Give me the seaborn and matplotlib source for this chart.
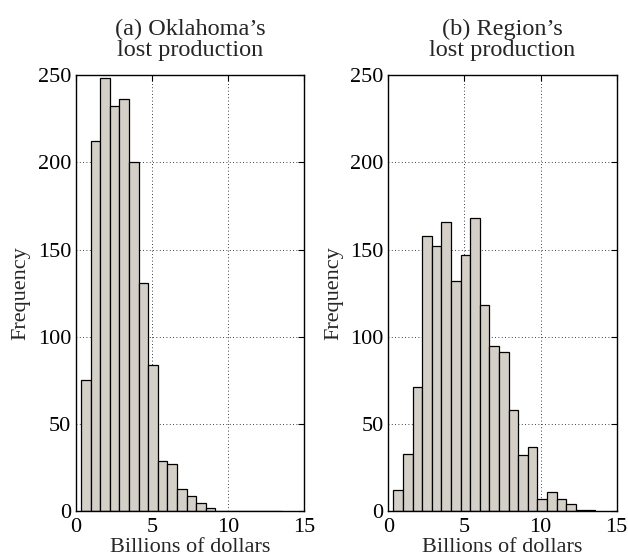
import glob
import numpy as np
import pandas as pd
import matplotlib
matplotlib.use("Agg")
import matplotlib.pyplot as plt
from matplotlib import font_manager
import seaborn as sns

# Histogram bins (billions of dollars): 21 equal bins
bin_start = 0.34
bin_width = 0.63
n_bins = 21

# Counts per bin for the two simulations
oklahoma_counts = [75, 212, 248, 232, 236, 200, 131, 84, 29, 27, 13, 9, 5, 2,
                   0, 0, 0, 0, 0, 0, 0]
region_counts = [12, 33, 71, 158, 152, 166, 132, 147, 168, 118, 95, 91, 58, 32,
                 37, 7, 11, 7, 4, 1, 1]

titles = ["(a) Oklahoma\u2019s\nlost production", "(b) Region\u2019s\nlost production"]
x_label = "Billions of dollars"
y_label = "Frequency"
x_ticks = [0, 5, 10, 15]
y_ticks = [0, 50, 100, 150, 200, 250]

edges = [bin_start + bin_width * i for i in range(n_bins + 1)]
centers = [(edges[i] + edges[i + 1]) / 2 for i in range(n_bins)]

# Register a Times-like serif face if it is on the system
for path in glob.glob("/usr/share/fonts/**/LiberationSerif*.ttf", recursive=True):
    font_manager.fontManager.addfont(path)

sns.set_theme(style="white")
plt.rcParams["font.family"] = ["Liberation Serif", "DejaVu Serif"]

fs = 16
fs_title = 17.5
fig = plt.figure(figsize=(6.28, 5.58), dpi=100)
ax_a = fig.add_axes([76 / 628, 1 - 511.3 / 558, 228 / 628, 436.3 / 558])
ax_b = fig.add_axes([388.3 / 628, 1 - 511.3 / 558, 228.4 / 628, 436.3 / 558])

for ax, counts, title in [(ax_a, oklahoma_counts, titles[0]),
                          (ax_b, region_counts, titles[1])]:
    df = pd.DataFrame({"value": centers, "count": counts})
    sns.histplot(data=df, x="value", weights="count", bins=edges, ax=ax,
                 color="#d4d0c8", alpha=1.0, edgecolor="black", linewidth=0.9)
    ax.set_xlim(0, 15)
    ax.set_ylim(0, 250)
    ax.set_xticks(x_ticks)
    ax.set_yticks(y_ticks)
    ax.set_axisbelow(True)
    ax.grid(True, linestyle=(0, (1, 3)), color="black", linewidth=0.6)
    ax.tick_params(direction="in", length=4, width=0.8, top=True, right=True,
                   labelsize=fs, colors="black")
    ax.tick_params(axis="x", pad=5.0)
    ax.tick_params(axis="y", pad=3.5)
    for sp in ax.spines.values():
        sp.set_color("black")
        sp.set_linewidth(1.0)
    ax.set_xlabel(x_label, fontsize=fs, labelpad=0.5)
    ax.set_ylabel(y_label, fontsize=fs, labelpad=5)
    ax.set_title(title, fontsize=fs_title, linespacing=0.95, pad=14)

fig.savefig("out.png", dpi=100)
